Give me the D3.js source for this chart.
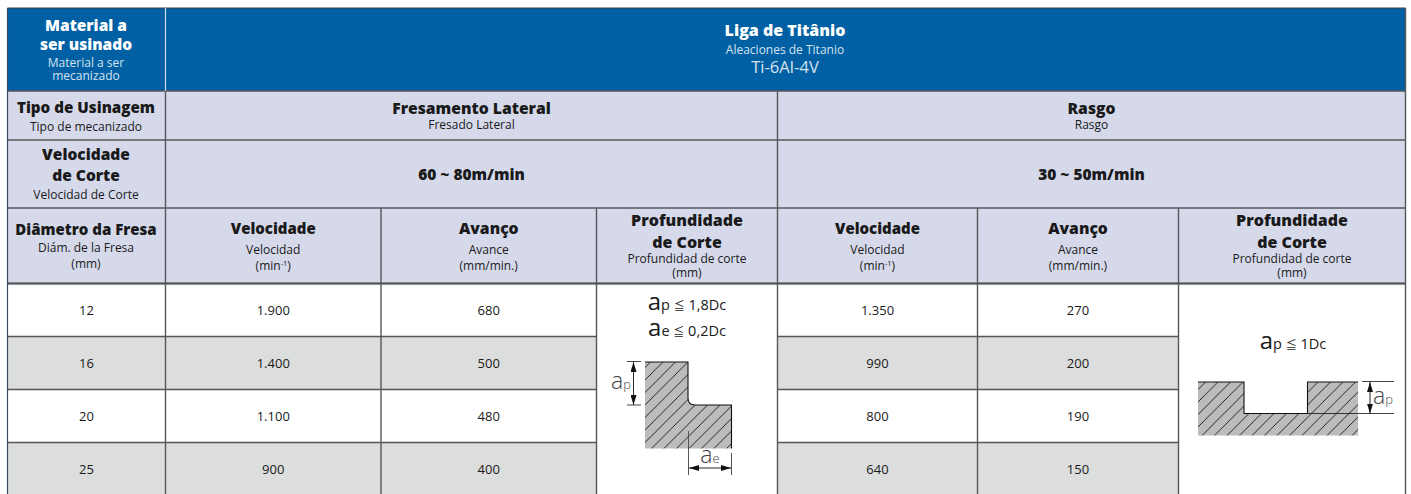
<!DOCTYPE html>
<html>
<head>
<meta charset="utf-8">
<script src="https://cdnjs.cloudflare.com/ajax/libs/d3/7.8.5/d3.min.js"></script>
<style>
  html, body { margin: 0; padding: 0; background: #fff; overflow: hidden; }
  svg { display: block; }
  text { font-family: "Open Sans", "Noto Sans", sans-serif; text-anchor: middle; fill: #1a1a1a; }
  .math { font-family: "Open Sans", "DejaVu Sans", sans-serif; }
</style>
</head>
<body>
<svg id="chart" width="1411" height="494"></svg>
<script>
// table values
var diameters = ['12', '16', '20', '25'];
var lateralSpeed = ['1.900', '1.400', '1.100', '900'];
var lateralFeed = ['680', '500', '480', '400'];
var slotSpeed = ['1.350', '990', '800', '640'];
var slotFeed = ['270', '200', '190', '150'];

var columns = ['left', 'speedA', 'feedA', 'depthA', 'speedB', 'feedB', 'depthB', 'right'];
var columnEdges = [7.5, 165.5, 381, 596.5, 777.5, 977.5, 1178.5, 1405.5];
var headerEdges = [8, 91, 140, 208, 283.5];

var x = d3.scaleOrdinal().domain(columns).range(columnEdges);
var y = d3.scaleBand().domain(diameters).range([283.5, 495.5]);

var colors = { blue: '#0060a3', head: '#d5d9ea', grey: '#dcdddd', line: '#55565a', hatch: '#bcbcbc' };

var svg = d3.select('#chart');

function cell(x0, y0, x1, y1, fill) {
  svg.append('rect').attr('x', x0).attr('y', y0).attr('width', x1 - x0).attr('height', y1 - y0).attr('fill', fill);
}

function rule(x0, y0, x1, y1, stroke, w) {
  svg.append('line').attr('x1', x0).attr('y1', y0).attr('x2', x1).attr('y2', y1)
    .attr('stroke', stroke || colors.line).attr('stroke-width', w || 1.4);
}

function label(cx, baseline, str, size, weight, fill) {
  return svg.append('text').attr('x', cx).attr('y', baseline).attr('font-size', size)
    .attr('font-weight', weight || 400).style('fill', fill || null).text(str);
}

function mid(a, b) {
  return (x(a) + x(b)) / 2;
}

// backgrounds
cell(x('left'), headerEdges[0], x('right'), headerEdges[1], colors.blue);
cell(x('left'), headerEdges[1], x('right'), headerEdges[4], colors.head);

diameters.forEach(function (d, i) {
  cell(x('left'), y(d), x('right'), y(d) + y.bandwidth(), i % 2 ? colors.grey : '#fff');
});
cell(x('depthA'), y('12'), x('speedB'), 494, '#fff');
cell(x('depthB'), y('12'), x('right'), 494, '#fff');

// grid lines
rule(x('left'), headerEdges[0], x('right'), headerEdges[0], '#3a3f48', 1.2);
headerEdges.slice(1).forEach(function (e) {
  rule(x('left'), e, x('right'), e);
});
rule(x('left'), 283.5, x('right'), 283.5, colors.line, 2);

diameters.slice(1).forEach(function (d) {
  rule(x('left'), y(d), x('depthA'), y(d));
  rule(x('speedB'), y(d), x('depthB'), y(d));
});

rule(x('left'), headerEdges[0], x('left'), 494, '#3a4a5a', 1.2);
rule(x('right'), headerEdges[0], x('right'), 494);
rule(x('speedA'), headerEdges[0], x('speedA'), headerEdges[1], '#d5d9ea', 1.2);
rule(x('speedA'), headerEdges[1], x('speedA'), 494);
rule(x('speedB'), headerEdges[1], x('speedB'), 494);
['feedA', 'depthA', 'feedB', 'depthB'].forEach(function (c) {
  rule(x(c), headerEdges[3], x(c), 494);
});

// top blue band
label(86, 31, 'Material a', 15.5, 800, '#fff');
label(86, 50, 'ser usinado', 15.5, 800, '#fff');
label(86, 66.5, 'Material a ser', 12, 400, '#d5e3f0');
label(86, 80, 'mecanizado', 12, 400, '#d5e3f0');
label(785, 36, 'Liga de Titânio', 16, 800, '#fff');
label(785, 54, 'Aleaciones de Titanio', 12, 400, '#d5e3f0');
label(785, 72.5, 'Ti-6AI-4V', 16.5, 400, '#d5e3f0');

// type row
label(86, 113, 'Tipo de Usinagem', 15.2, 800);
label(86, 131, 'Tipo de mecanizado', 12);
label(mid('speedA', 'speedB'), 113.5, 'Fresamento Lateral', 15.7, 800);
label(mid('speedA', 'speedB'), 128.5, 'Fresado Lateral', 12);
label(mid('speedB', 'right'), 113.5, 'Rasgo', 15.7, 800);
label(mid('speedB', 'right'), 128.5, 'Rasgo', 12);

// cutting speed row
label(86, 160, 'Velocidade', 15.5, 800);
label(86, 181, 'de Corte', 15.5, 800);
label(86, 199, 'Velocidad de Corte', 12);
label(mid('speedA', 'speedB'), 180, '60 ~ 80m/min', 15.5, 800);
label(mid('speedB', 'right'), 180, '30 ~ 50m/min', 15.5, 800);

// column headers
label(86, 235, 'Diâmetro da Fresa', 15, 800);
label(86, 251.5, 'Diám. de la Fresa', 12);
label(86, 267.5, '(mm)', 12);

function speedHead(a, b) {
  var cx = mid(a, b);
  label(cx, 233.5, 'Velocidade', 15, 800);
  label(cx, 254, 'Velocidad', 12);
  var t = label(cx, 270, '(min', 12);
  t.append('tspan').attr('font-size', 7.5).attr('dy', -4).text('-1');
  t.append('tspan').attr('dy', 4).text(')');
}

function feedHead(a, b) {
  var cx = mid(a, b);
  label(cx, 234, 'Avanço', 15.7, 800);
  label(cx, 254, 'Avance', 12);
  label(cx, 270, '(mm/min.)', 12);
}

function depthHead(a, b) {
  var cx = mid(a, b);
  label(cx, 226, 'Profundidade', 16, 800);
  label(cx, 247.5, 'de Corte', 16, 800);
  label(cx, 263, 'Profundidad de corte', 12);
  label(cx, 277, '(mm)', 12);
}

speedHead('speedA', 'feedA');
feedHead('feedA', 'depthA');
depthHead('depthA', 'speedB');
speedHead('speedB', 'feedB');
feedHead('feedB', 'depthB');
depthHead('depthB', 'right');

// data rows
function valueColumn(values, a, b) {
  diameters.forEach(function (d, i) {
    label(mid(a, b), y(d) + y.bandwidth() / 2 + 5, values[i], 13);
  });
}

valueColumn(diameters, 'left', 'speedA');
valueColumn(lateralSpeed, 'speedA', 'feedA');
valueColumn(lateralFeed, 'feedA', 'depthA');
valueColumn(slotSpeed, 'speedB', 'feedB');
valueColumn(slotFeed, 'feedB', 'depthB');

// a_p / a_e formulas
function formula(cx, baseline, sub, rest) {
  var t = svg.append('text').attr('class', 'math').attr('x', cx).attr('y', baseline)
    .attr('font-size', 14.5);
  t.append('tspan').attr('font-size', 24).text('a');
  t.append('tspan').attr('font-size', 14.5).text(sub + ' ');
  t.append('tspan').attr('font-size', 11).attr('font-family', '"Noto Sans CJK JP"').text('≦');
  t.append('tspan').text(' ' + rest);
}

formula(687, 310, 'p', '1,8Dc');
formula(687, 336, 'e', '0,2Dc');
formula(1293, 349, 'p', '1Dc');

// hatched sections
var defs = svg.append('defs');
var pattern = defs.append('pattern').attr('id', 'hatch').attr('patternUnits', 'userSpaceOnUse')
  .attr('width', 12.5).attr('height', 12.5);
pattern.append('rect').attr('width', 12.5).attr('height', 12.5).attr('fill', colors.hatch);
pattern.append('path').attr('d', 'M-2,14.5 L14.5,-2 M-4,4 L4,-4 M8.5,16.5 L16.5,8.5')
  .attr('stroke', '#111').attr('stroke-width', 0.9).attr('fill', 'none');

function section(points, outline) {
  svg.append('path').attr('d', points).attr('fill', 'url(#hatch)');
  svg.append('path').attr('d', outline).attr('fill', 'none').attr('stroke', '#111').attr('stroke-width', 1.1);
}

defs.append('marker').attr('id', 'arrow').attr('viewBox', '0 0 10 6').attr('refX', 10).attr('refY', 3)
  .attr('markerWidth', 10).attr('markerHeight', 6).attr('orient', 'auto-start-reverse')
  .attr('markerUnits', 'userSpaceOnUse')
  .append('path').attr('d', 'M0,0 L10,3 L0,6 Z').attr('fill', '#111');

function arrow(x0, y0, x1, y1) {
  svg.append('line').attr('x1', x0).attr('y1', y0).attr('x2', x1).attr('y2', y1)
    .attr('stroke', '#111').attr('stroke-width', 0.9)
    .attr('marker-start', 'url(#arrow)').attr('marker-end', 'url(#arrow)');
}

function symbol(cx, baseline, sub) {
  var t = svg.append('text').attr('x', cx).attr('y', baseline).attr('font-size', 23).attr('font-weight', 300).style('fill', '#444');
  t.append('tspan').text('a');
  t.append('tspan').attr('font-size', 13).text(sub);
}

// side milling section
section('M645,362 H688 V398 Q688,405 695,405 H731.5 V448.5 H645 Z',
  'M645,362 H688 V398 Q688,405 695,405 H731.5 V448.5');
rule(627, 361.5, 641, 361.5, '#111', 0.8);
rule(627, 405, 641, 405, '#111', 0.8);
arrow(633.5, 362, 633.5, 405);
rule(688.5, 431, 688.5, 475, '#555', 1);
rule(731.5, 453, 731.5, 475, '#555', 1);
arrow(689, 468, 731, 468);
symbol(621, 389, 'p');
symbol(710, 463, 'e');

// slot section
section('M1198,382 H1244 V413.5 H1307.5 V382 H1358 V435.5 H1198 Z',
  'M1198,382 H1244 V413.5 H1307.5 V382 H1358');
rule(1362, 381.5, 1394, 381.5, '#111', 0.8);
rule(1307.5, 413.5, 1394, 413.5, '#111', 0.8);
arrow(1370, 382, 1370, 413.5);
symbol(1383, 404, 'p');
</script>
</body>
</html>
